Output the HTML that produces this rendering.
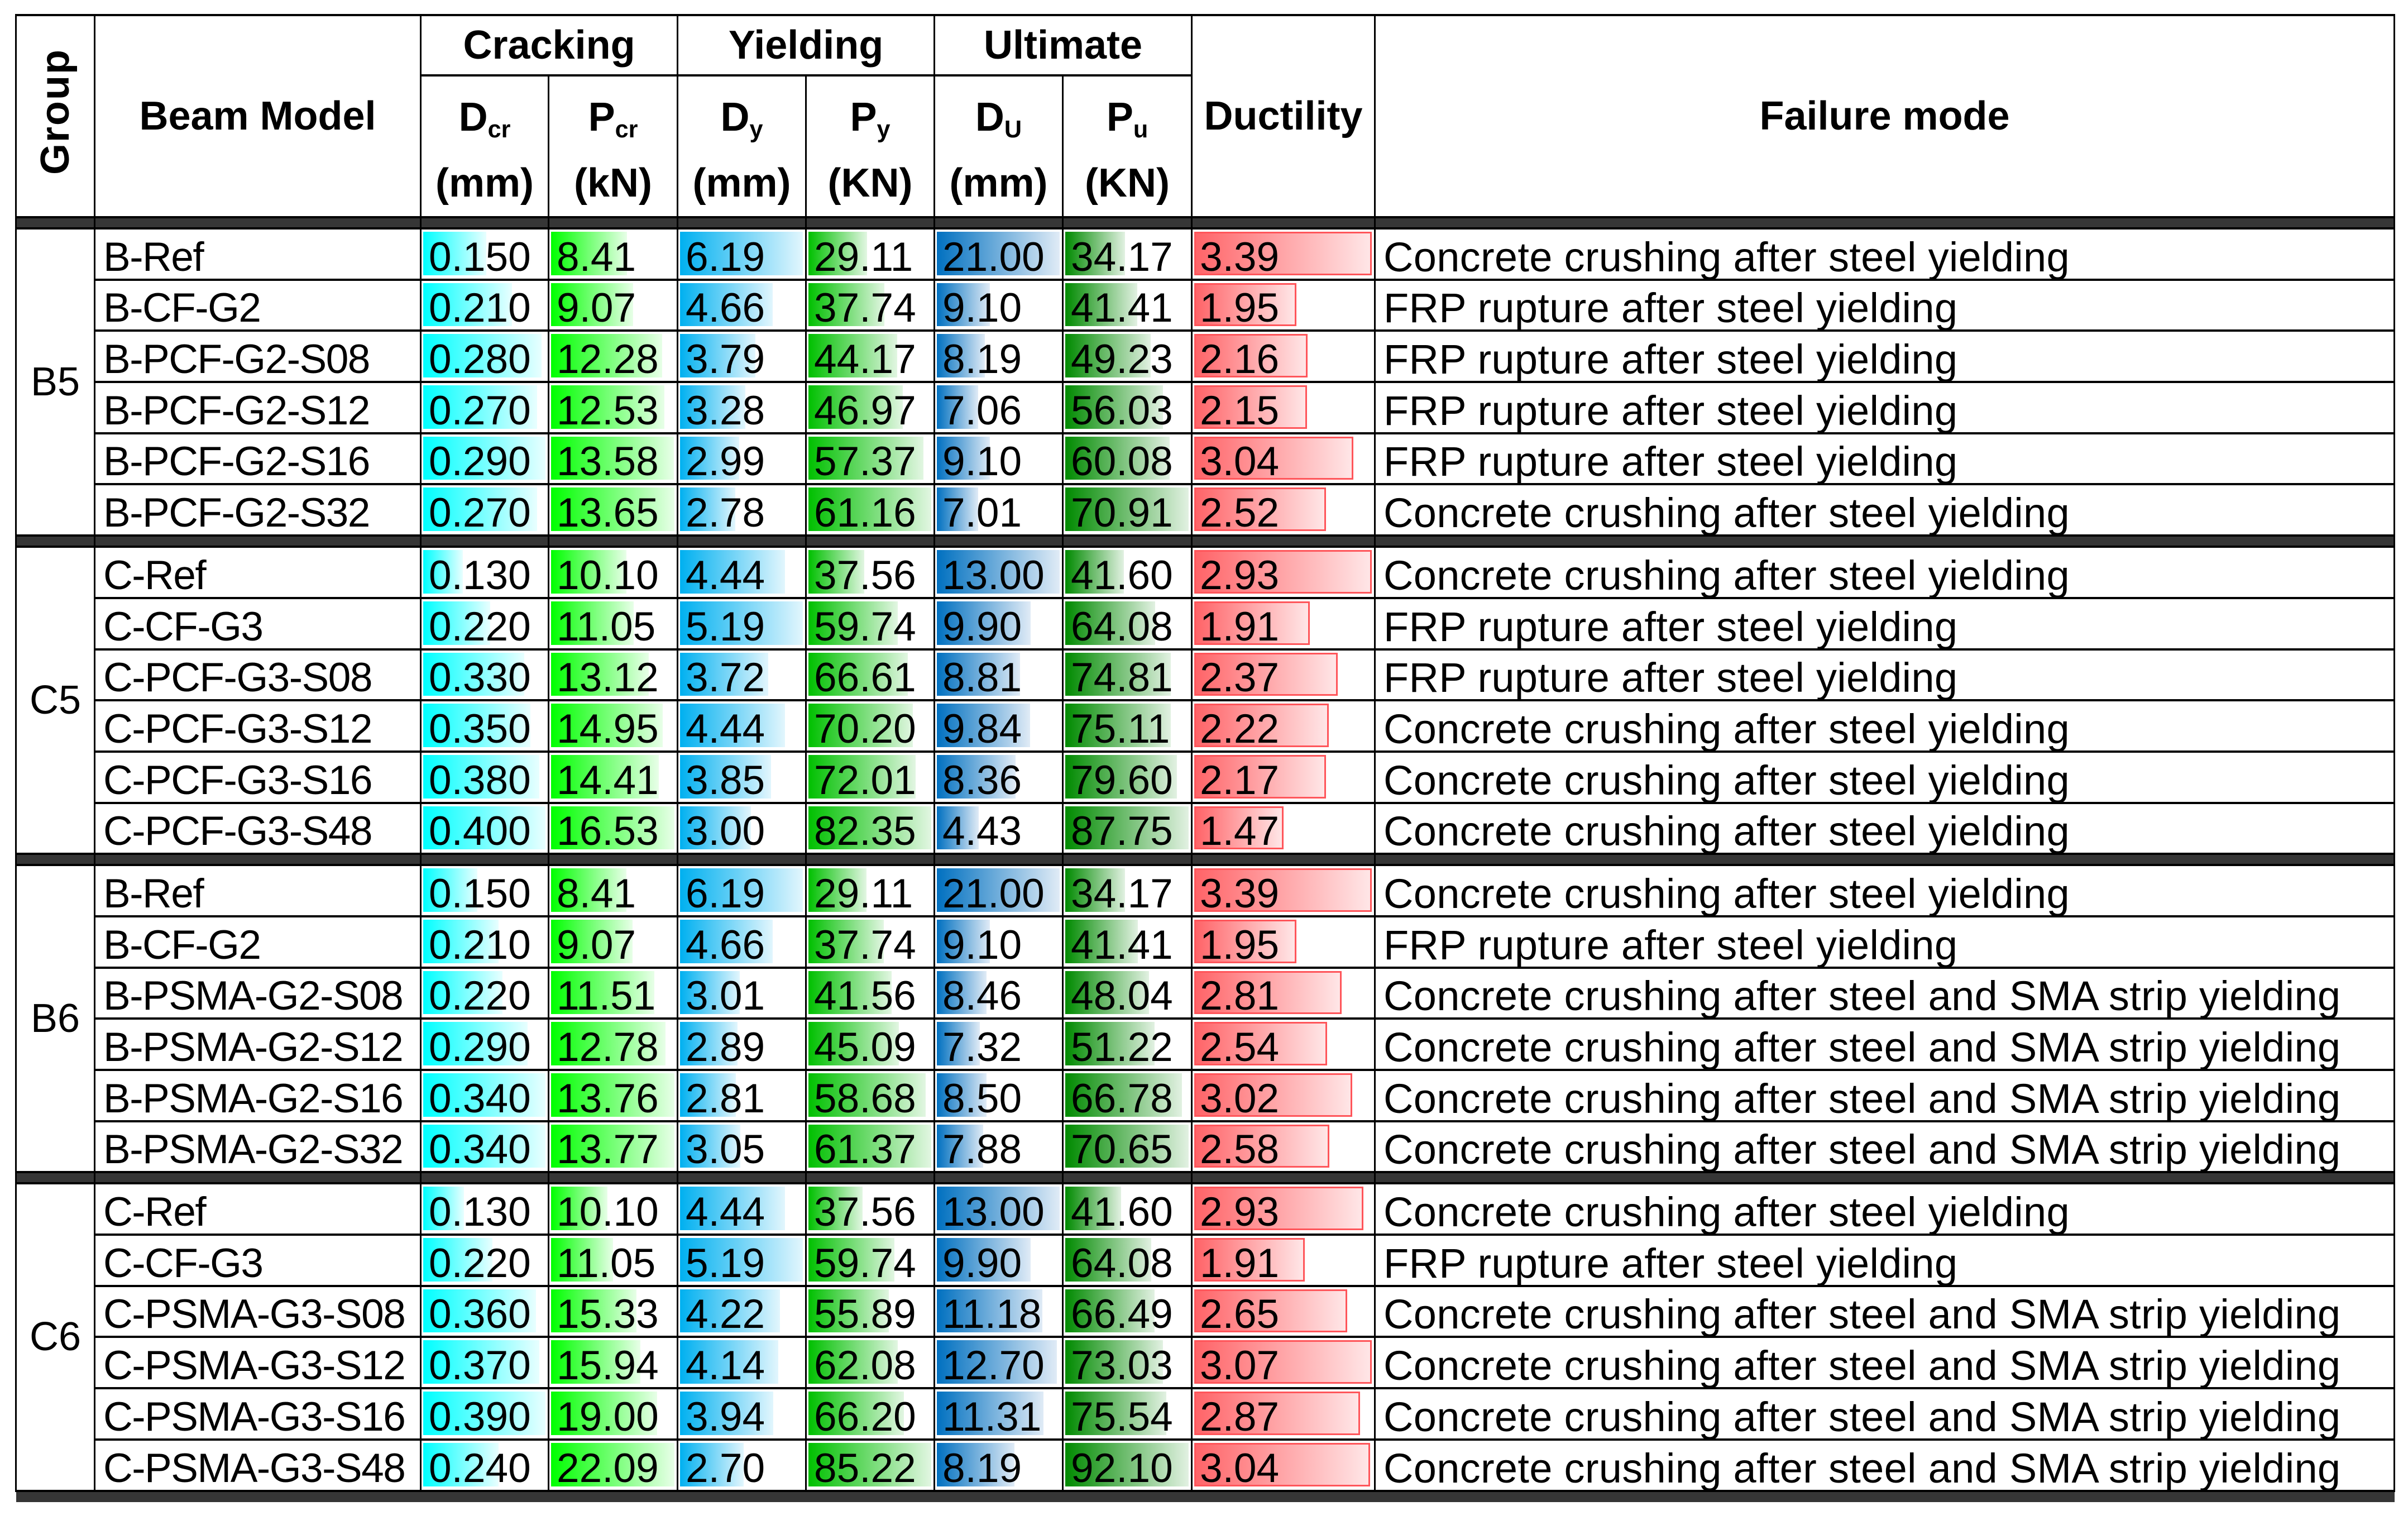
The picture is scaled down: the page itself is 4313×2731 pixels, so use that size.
<!DOCTYPE html>
<html><head><meta charset="utf-8">
<style>
html,body{margin:0;padding:0;background:#fff;}
body{width:4313px;height:2731px;position:relative;overflow:hidden;font-family:"Liberation Sans",Arial,sans-serif;color:#000;}
table{position:absolute;left:27px;top:25px;width:4260px;border-collapse:collapse;table-layout:fixed;}
td,th{border-left:3px solid #000;border-right:3px solid #000;border-top:4px solid #000;border-bottom:4px solid #000;padding:0;overflow:hidden;white-space:nowrap;}
th{font-weight:bold;font-size:72px;text-align:center;vertical-align:middle;}
th sub{font-size:0.6em;vertical-align:-0.28em;line-height:0;}
th.two{line-height:118px;padding-top:14px;}
tr.h1{height:108px;} tr.h2{height:251px;}
tr.r{height:91.7px;}
tr.band{height:20px;}
tr.band td{background:#363636;border-top:3px solid #000;border-bottom:3px solid #000;}
tr.bot td{background:#363636;border-left:none;border-right:none;border-bottom:none;}
td{font-size:73px;}
td.grp{text-align:center;vertical-align:middle;font-size:72px;border-top:4px solid #000;}
td.m,td.f{padding-left:14px;vertical-align:bottom;line-height:72px;padding-bottom:2px;}
td.m{letter-spacing:-1.5px;}
td.f{font-size:74px;letter-spacing:0.3px;}
td.v{position:relative;padding-left:13px;vertical-align:bottom;line-height:72px;padding-bottom:2px;}
td.v i{position:absolute;left:3px;top:4px;bottom:6px;width:calc((100% - 7px)*var(--f));box-sizing:border-box;}
td.v span{position:relative;}
.c1 i{background:linear-gradient(90deg,#00ffff,#e8ffff);}
.c2 i{background:linear-gradient(90deg,#00ff00,#e8ffe8);}
.c3 i{background:linear-gradient(90deg,#00b0f0,#e2f6fd);}
.c4 i{background:linear-gradient(90deg,#00c000,#e2f6e2);}
.c5 i{background:linear-gradient(90deg,#0070c0,#e0ebf6);}
.c6 i{background:linear-gradient(90deg,#008a00,#e2f1e2);}
.c7 i{background:linear-gradient(90deg,#ff6468,#ffe6e7);border:3px solid #ff555a;}
.rot{display:inline-block;writing-mode:vertical-rl;transform:rotate(180deg);font-size:72px;font-weight:bold;letter-spacing:2px;}
</style></head><body>
<table>
<colgroup>
<col style="width:141px"><col style="width:584px"><col style="width:229px"><col style="width:231px"><col style="width:230px"><col style="width:230px"><col style="width:230px"><col style="width:231px"><col style="width:328px"><col style="width:1826px">
</colgroup>
<tr class="h1">
<th rowspan="2"><span class="rot">Group</span></th>
<th rowspan="2">Beam Model</th>
<th colspan="2">Cracking</th>
<th colspan="2">Yielding</th>
<th colspan="2">Ultimate</th>
<th rowspan="2">Ductility</th>
<th rowspan="2">Failure mode</th>
</tr>
<tr class="h2">
<th class="two">D<sub>cr</sub><br>(mm)</th>
<th class="two">P<sub>cr</sub><br>(kN)</th>
<th class="two">D<sub>y</sub><br>(mm)</th>
<th class="two">P<sub>y</sub><br>(KN)</th>
<th class="two">D<sub>U</sub><br>(mm)</th>
<th class="two">P<sub>u</sub><br>(KN)</th>
</tr>
<tr class="band"><td></td><td></td><td></td><td></td><td></td><td></td><td></td><td></td><td></td><td></td></tr>

<!-- B5 -->
<tr class="r"><td class="grp" rowspan="6">B5</td><td class="m">B-Ref</td>
<td class="v c1"><i style="--f:.517"></i><span>0.150</span></td><td class="v c2"><i style="--f:.616"></i><span>8.41</span></td><td class="v c3"><i style="--f:1"></i><span>6.19</span></td><td class="v c4"><i style="--f:.476"></i><span>29.11</span></td><td class="v c5"><i style="--f:1"></i><span>21.00</span></td><td class="v c6"><i style="--f:.482"></i><span>34.17</span></td><td class="v c7"><i style="--f:1"></i><span>3.39</span></td><td class="f">Concrete crushing after steel yielding</td></tr>
<tr class="r"><td class="m">B-CF-G2</td>
<td class="v c1"><i style="--f:.724"></i><span>0.210</span></td><td class="v c2"><i style="--f:.664"></i><span>9.07</span></td><td class="v c3"><i style="--f:.753"></i><span>4.66</span></td><td class="v c4"><i style="--f:.617"></i><span>37.74</span></td><td class="v c5"><i style="--f:.433"></i><span>9.10</span></td><td class="v c6"><i style="--f:.584"></i><span>41.41</span></td><td class="v c7"><i style="--f:.575"></i><span>1.95</span></td><td class="f">FRP rupture after steel yielding</td></tr>
<tr class="r"><td class="m">B-PCF-G2-S08</td>
<td class="v c1"><i style="--f:.966"></i><span>0.280</span></td><td class="v c2"><i style="--f:.900"></i><span>12.28</span></td><td class="v c3"><i style="--f:.612"></i><span>3.79</span></td><td class="v c4"><i style="--f:.722"></i><span>44.17</span></td><td class="v c5"><i style="--f:.390"></i><span>8.19</span></td><td class="v c6"><i style="--f:.694"></i><span>49.23</span></td><td class="v c7"><i style="--f:.637"></i><span>2.16</span></td><td class="f">FRP rupture after steel yielding</td></tr>
<tr class="r"><td class="m">B-PCF-G2-S12</td>
<td class="v c1"><i style="--f:.931"></i><span>0.270</span></td><td class="v c2"><i style="--f:.918"></i><span>12.53</span></td><td class="v c3"><i style="--f:.530"></i><span>3.28</span></td><td class="v c4"><i style="--f:.768"></i><span>46.97</span></td><td class="v c5"><i style="--f:.336"></i><span>7.06</span></td><td class="v c6"><i style="--f:.790"></i><span>56.03</span></td><td class="v c7"><i style="--f:.634"></i><span>2.15</span></td><td class="f">FRP rupture after steel yielding</td></tr>
<tr class="r"><td class="m">B-PCF-G2-S16</td>
<td class="v c1"><i style="--f:1"></i><span>0.290</span></td><td class="v c2"><i style="--f:.995"></i><span>13.58</span></td><td class="v c3"><i style="--f:.483"></i><span>2.99</span></td><td class="v c4"><i style="--f:.938"></i><span>57.37</span></td><td class="v c5"><i style="--f:.433"></i><span>9.10</span></td><td class="v c6"><i style="--f:.847"></i><span>60.08</span></td><td class="v c7"><i style="--f:.897"></i><span>3.04</span></td><td class="f">FRP rupture after steel yielding</td></tr>
<tr class="r"><td class="m">B-PCF-G2-S32</td>
<td class="v c1"><i style="--f:.931"></i><span>0.270</span></td><td class="v c2"><i style="--f:1"></i><span>13.65</span></td><td class="v c3"><i style="--f:.449"></i><span>2.78</span></td><td class="v c4"><i style="--f:1"></i><span>61.16</span></td><td class="v c5"><i style="--f:.334"></i><span>7.01</span></td><td class="v c6"><i style="--f:1"></i><span>70.91</span></td><td class="v c7"><i style="--f:.743"></i><span>2.52</span></td><td class="f">Concrete crushing after steel yielding</td></tr>
<tr class="band"><td></td><td></td><td></td><td></td><td></td><td></td><td></td><td></td><td></td><td></td></tr>

<!-- C5 -->
<tr class="r"><td class="grp" rowspan="6">C5</td><td class="m">C-Ref</td>
<td class="v c1"><i style="--f:.325"></i><span>0.130</span></td><td class="v c2"><i style="--f:.611"></i><span>10.10</span></td><td class="v c3"><i style="--f:.855"></i><span>4.44</span></td><td class="v c4"><i style="--f:.456"></i><span>37.56</span></td><td class="v c5"><i style="--f:1"></i><span>13.00</span></td><td class="v c6"><i style="--f:.474"></i><span>41.60</span></td><td class="v c7"><i style="--f:1"></i><span>2.93</span></td><td class="f">Concrete crushing after steel yielding</td></tr>
<tr class="r"><td class="m">C-CF-G3</td>
<td class="v c1"><i style="--f:.55"></i><span>0.220</span></td><td class="v c2"><i style="--f:.668"></i><span>11.05</span></td><td class="v c3"><i style="--f:1"></i><span>5.19</span></td><td class="v c4"><i style="--f:.725"></i><span>59.74</span></td><td class="v c5"><i style="--f:.762"></i><span>9.90</span></td><td class="v c6"><i style="--f:.730"></i><span>64.08</span></td><td class="v c7"><i style="--f:.652"></i><span>1.91</span></td><td class="f">FRP rupture after steel yielding</td></tr>
<tr class="r"><td class="m">C-PCF-G3-S08</td>
<td class="v c1"><i style="--f:.825"></i><span>0.330</span></td><td class="v c2"><i style="--f:.794"></i><span>13.12</span></td><td class="v c3"><i style="--f:.717"></i><span>3.72</span></td><td class="v c4"><i style="--f:.809"></i><span>66.61</span></td><td class="v c5"><i style="--f:.678"></i><span>8.81</span></td><td class="v c6"><i style="--f:.853"></i><span>74.81</span></td><td class="v c7"><i style="--f:.809"></i><span>2.37</span></td><td class="f">FRP rupture after steel yielding</td></tr>
<tr class="r"><td class="m">C-PCF-G3-S12</td>
<td class="v c1"><i style="--f:.875"></i><span>0.350</span></td><td class="v c2"><i style="--f:.904"></i><span>14.95</span></td><td class="v c3"><i style="--f:.855"></i><span>4.44</span></td><td class="v c4"><i style="--f:.852"></i><span>70.20</span></td><td class="v c5"><i style="--f:.757"></i><span>9.84</span></td><td class="v c6"><i style="--f:.856"></i><span>75.11</span></td><td class="v c7"><i style="--f:.758"></i><span>2.22</span></td><td class="f">Concrete crushing after steel yielding</td></tr>
<tr class="r"><td class="m">C-PCF-G3-S16</td>
<td class="v c1"><i style="--f:.95"></i><span>0.380</span></td><td class="v c2"><i style="--f:.872"></i><span>14.41</span></td><td class="v c3"><i style="--f:.742"></i><span>3.85</span></td><td class="v c4"><i style="--f:.874"></i><span>72.01</span></td><td class="v c5"><i style="--f:.643"></i><span>8.36</span></td><td class="v c6"><i style="--f:.907"></i><span>79.60</span></td><td class="v c7"><i style="--f:.741"></i><span>2.17</span></td><td class="f">Concrete crushing after steel yielding</td></tr>
<tr class="r"><td class="m">C-PCF-G3-S48</td>
<td class="v c1"><i style="--f:1"></i><span>0.400</span></td><td class="v c2"><i style="--f:1"></i><span>16.53</span></td><td class="v c3"><i style="--f:.578"></i><span>3.00</span></td><td class="v c4"><i style="--f:1"></i><span>82.35</span></td><td class="v c5"><i style="--f:.341"></i><span>4.43</span></td><td class="v c6"><i style="--f:1"></i><span>87.75</span></td><td class="v c7"><i style="--f:.502"></i><span>1.47</span></td><td class="f">Concrete crushing after steel yielding</td></tr>
<tr class="band"><td></td><td></td><td></td><td></td><td></td><td></td><td></td><td></td><td></td><td></td></tr>

<!-- B6 -->
<tr class="r"><td class="grp" rowspan="6">B6</td><td class="m">B-Ref</td>
<td class="v c1"><i style="--f:.441"></i><span>0.150</span></td><td class="v c2"><i style="--f:.611"></i><span>8.41</span></td><td class="v c3"><i style="--f:1"></i><span>6.19</span></td><td class="v c4"><i style="--f:.474"></i><span>29.11</span></td><td class="v c5"><i style="--f:1"></i><span>21.00</span></td><td class="v c6"><i style="--f:.484"></i><span>34.17</span></td><td class="v c7"><i style="--f:1"></i><span>3.39</span></td><td class="f">Concrete crushing after steel yielding</td></tr>
<tr class="r"><td class="m">B-CF-G2</td>
<td class="v c1"><i style="--f:.618"></i><span>0.210</span></td><td class="v c2"><i style="--f:.659"></i><span>9.07</span></td><td class="v c3"><i style="--f:.753"></i><span>4.66</span></td><td class="v c4"><i style="--f:.615"></i><span>37.74</span></td><td class="v c5"><i style="--f:.433"></i><span>9.10</span></td><td class="v c6"><i style="--f:.586"></i><span>41.41</span></td><td class="v c7"><i style="--f:.575"></i><span>1.95</span></td><td class="f">FRP rupture after steel yielding</td></tr>
<tr class="r"><td class="m">B-PSMA-G2-S08</td>
<td class="v c1"><i style="--f:.647"></i><span>0.220</span></td><td class="v c2"><i style="--f:.836"></i><span>11.51</span></td><td class="v c3"><i style="--f:.486"></i><span>3.01</span></td><td class="v c4"><i style="--f:.677"></i><span>41.56</span></td><td class="v c5"><i style="--f:.403"></i><span>8.46</span></td><td class="v c6"><i style="--f:.680"></i><span>48.04</span></td><td class="v c7"><i style="--f:.829"></i><span>2.81</span></td><td class="f">Concrete crushing after steel and SMA strip yielding</td></tr>
<tr class="r"><td class="m">B-PSMA-G2-S12</td>
<td class="v c1"><i style="--f:.853"></i><span>0.290</span></td><td class="v c2"><i style="--f:.928"></i><span>12.78</span></td><td class="v c3"><i style="--f:.467"></i><span>2.89</span></td><td class="v c4"><i style="--f:.735"></i><span>45.09</span></td><td class="v c5"><i style="--f:.349"></i><span>7.32</span></td><td class="v c6"><i style="--f:.725"></i><span>51.22</span></td><td class="v c7"><i style="--f:.749"></i><span>2.54</span></td><td class="f">Concrete crushing after steel and SMA strip yielding</td></tr>
<tr class="r"><td class="m">B-PSMA-G2-S16</td>
<td class="v c1"><i style="--f:1"></i><span>0.340</span></td><td class="v c2"><i style="--f:.999"></i><span>13.76</span></td><td class="v c3"><i style="--f:.454"></i><span>2.81</span></td><td class="v c4"><i style="--f:.956"></i><span>58.68</span></td><td class="v c5"><i style="--f:.405"></i><span>8.50</span></td><td class="v c6"><i style="--f:.945"></i><span>66.78</span></td><td class="v c7"><i style="--f:.891"></i><span>3.02</span></td><td class="f">Concrete crushing after steel and SMA strip yielding</td></tr>
<tr class="r"><td class="m">B-PSMA-G2-S32</td>
<td class="v c1"><i style="--f:1"></i><span>0.340</span></td><td class="v c2"><i style="--f:1"></i><span>13.77</span></td><td class="v c3"><i style="--f:.493"></i><span>3.05</span></td><td class="v c4"><i style="--f:1"></i><span>61.37</span></td><td class="v c5"><i style="--f:.375"></i><span>7.88</span></td><td class="v c6"><i style="--f:1"></i><span>70.65</span></td><td class="v c7"><i style="--f:.761"></i><span>2.58</span></td><td class="f">Concrete crushing after steel and SMA strip yielding</td></tr>
<tr class="band"><td></td><td></td><td></td><td></td><td></td><td></td><td></td><td></td><td></td><td></td></tr>

<!-- C6 -->
<tr class="r"><td class="grp" rowspan="6">C6</td><td class="m">C-Ref</td>
<td class="v c1"><i style="--f:.333"></i><span>0.130</span></td><td class="v c2"><i style="--f:.457"></i><span>10.10</span></td><td class="v c3"><i style="--f:.855"></i><span>4.44</span></td><td class="v c4"><i style="--f:.441"></i><span>37.56</span></td><td class="v c5"><i style="--f:1"></i><span>13.00</span></td><td class="v c6"><i style="--f:.452"></i><span>41.60</span></td><td class="v c7"><i style="--f:.954"></i><span>2.93</span></td><td class="f">Concrete crushing after steel yielding</td></tr>
<tr class="r"><td class="m">C-CF-G3</td>
<td class="v c1"><i style="--f:.564"></i><span>0.220</span></td><td class="v c2"><i style="--f:.500"></i><span>11.05</span></td><td class="v c3"><i style="--f:1"></i><span>5.19</span></td><td class="v c4"><i style="--f:.701"></i><span>59.74</span></td><td class="v c5"><i style="--f:.762"></i><span>9.90</span></td><td class="v c6"><i style="--f:.696"></i><span>64.08</span></td><td class="v c7"><i style="--f:.622"></i><span>1.91</span></td><td class="f">FRP rupture after steel yielding</td></tr>
<tr class="r"><td class="m">C-PSMA-G3-S08</td>
<td class="v c1"><i style="--f:.923"></i><span>0.360</span></td><td class="v c2"><i style="--f:.694"></i><span>15.33</span></td><td class="v c3"><i style="--f:.813"></i><span>4.22</span></td><td class="v c4"><i style="--f:.656"></i><span>55.89</span></td><td class="v c5"><i style="--f:.860"></i><span>11.18</span></td><td class="v c6"><i style="--f:.722"></i><span>66.49</span></td><td class="v c7"><i style="--f:.863"></i><span>2.65</span></td><td class="f">Concrete crushing after steel and SMA strip yielding</td></tr>
<tr class="r"><td class="m">C-PSMA-G3-S12</td>
<td class="v c1"><i style="--f:.949"></i><span>0.370</span></td><td class="v c2"><i style="--f:.722"></i><span>15.94</span></td><td class="v c3"><i style="--f:.798"></i><span>4.14</span></td><td class="v c4"><i style="--f:.728"></i><span>62.08</span></td><td class="v c5"><i style="--f:.977"></i><span>12.70</span></td><td class="v c6"><i style="--f:.793"></i><span>73.03</span></td><td class="v c7"><i style="--f:1"></i><span>3.07</span></td><td class="f">Concrete crushing after steel and SMA strip yielding</td></tr>
<tr class="r"><td class="m">C-PSMA-G3-S16</td>
<td class="v c1"><i style="--f:1"></i><span>0.390</span></td><td class="v c2"><i style="--f:.860"></i><span>19.00</span></td><td class="v c3"><i style="--f:.759"></i><span>3.94</span></td><td class="v c4"><i style="--f:.777"></i><span>66.20</span></td><td class="v c5"><i style="--f:.870"></i><span>11.31</span></td><td class="v c6"><i style="--f:.820"></i><span>75.54</span></td><td class="v c7"><i style="--f:.935"></i><span>2.87</span></td><td class="f">Concrete crushing after steel and SMA strip yielding</td></tr>
<tr class="r"><td class="m">C-PSMA-G3-S48</td>
<td class="v c1"><i style="--f:.615"></i><span>0.240</span></td><td class="v c2"><i style="--f:1"></i><span>22.09</span></td><td class="v c3"><i style="--f:.520"></i><span>2.70</span></td><td class="v c4"><i style="--f:1"></i><span>85.22</span></td><td class="v c5"><i style="--f:.630"></i><span>8.19</span></td><td class="v c6"><i style="--f:1"></i><span>92.10</span></td><td class="v c7"><i style="--f:.990"></i><span>3.04</span></td><td class="f">Concrete crushing after steel and SMA strip yielding</td></tr>
<tr class="band bot"><td></td><td></td><td></td><td></td><td></td><td></td><td></td><td></td><td></td><td></td></tr>
</table>
</body></html>
